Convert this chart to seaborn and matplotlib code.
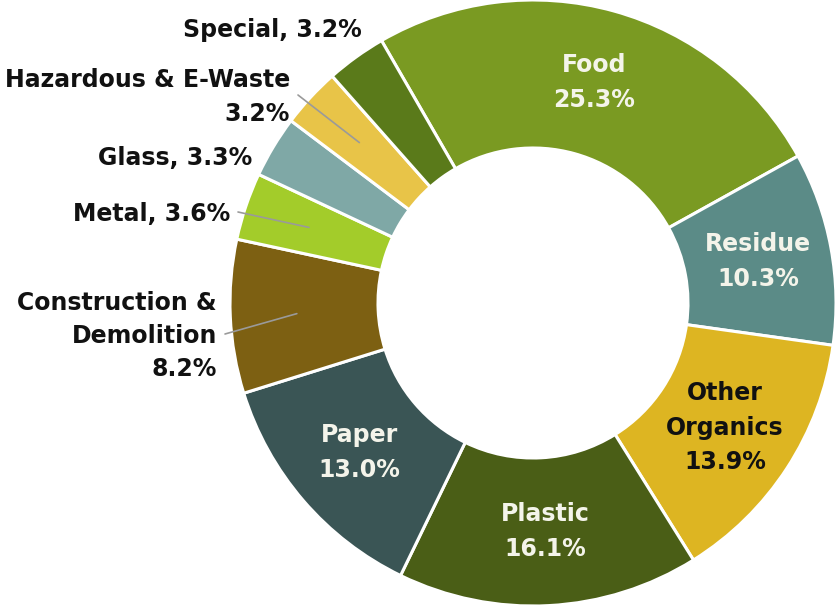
import matplotlib
matplotlib.use("Agg")
import matplotlib.pyplot as plt
import numpy as np
import seaborn as sns

sns.set_theme(style="white")
plt.rcParams['font.family'] = ['DejaVu Sans']

# waste composition, clockwise from Food
categories = ['Food', 'Residue', 'Other Organics', 'Plastic', 'Paper',
              'Construction & Demolition', 'Metal', 'Glass',
              'Hazardous & E-Waste', 'Special']
shares = [25.3, 10.3, 13.9, 16.1, 13.0, 8.2, 3.6, 3.3, 3.2, 3.2]
colors = ['#7a9a22', '#5b8b87', '#ddb522', '#4a5e16', '#3a5555',
          '#7d6012', '#a3cc2a', '#7fa8a6', '#e8c448', '#5a7a1a']

# labels drawn inside the ring
inside_text = {
    'Food': ('Food\n25.3%', '#f4f4ea'),
    'Residue': ('Residue\n10.3%', '#f4f4ea'),
    'Other Organics': ('Other\nOrganics\n13.9%', '#111111'),
    'Plastic': ('Plastic\n16.1%', '#f4f4ea'),
    'Paper': ('Paper\n13.0%', '#f4f4ea'),
}
# labels drawn outside (text, x, y in pixels from top-left, leader line?)
outside_text = {
    'Special': ('Special, 3.2%', 362, 30, False),
    'Hazardous & E-Waste': ('Hazardous & E-Waste\n3.2%', 290, 97, True),
    'Glass': ('Glass, 3.3%', 252, 158, False),
    'Metal': ('Metal, 3.6%', 230, 214, True),
    'Construction & Demolition': ('Construction &\nDemolition\n8.2%', 217, 336, True),
}

W, H = 837, 608
cx, cy, R = 533, H - 303, 303
ring = 148

fig = plt.figure(figsize=(W / 100, H / 100), dpi=100)
ax = fig.add_axes([0, 0, 1, 1])
wedges, _ = ax.pie(shares, colors=colors, center=(cx, cy), radius=R,
                   startangle=120, counterclock=False,
                   wedgeprops=dict(width=ring, edgecolor='white', linewidth=2.2))
ax.set_xlim(0, W)
ax.set_ylim(0, H)
ax.set_aspect('equal')
ax.axis('off')

fs = 17
mid_r = R - ring / 2
for name, w in zip(categories, wedges):
    ang = np.deg2rad((w.theta1 + w.theta2) / 2)
    mx, my = cx + mid_r * np.cos(ang), cy + mid_r * np.sin(ang)
    if name in inside_text:
        txt, col = inside_text[name]
        ax.text(mx, my, txt, ha='center', va='center', color=col,
                fontsize=fs, fontweight='bold', linespacing=1.55)
    else:
        txt, tx, ty, leader = outside_text[name]
        ax.text(tx, H - ty, txt, ha='right', va='center', color='#111111',
                fontsize=fs, fontweight='bold', linespacing=1.5)
        if leader:
            lx = cx + (R - ring * 0.45) * np.cos(ang)
            ly = cy + (R - ring * 0.45) * np.sin(ang)
            sx, sy = tx + 8, H - ty + 2
            ax.plot([sx, lx], [sy, ly], color='#9a9a9a', lw=1.2)

fig.savefig('out.png', dpi=100)
